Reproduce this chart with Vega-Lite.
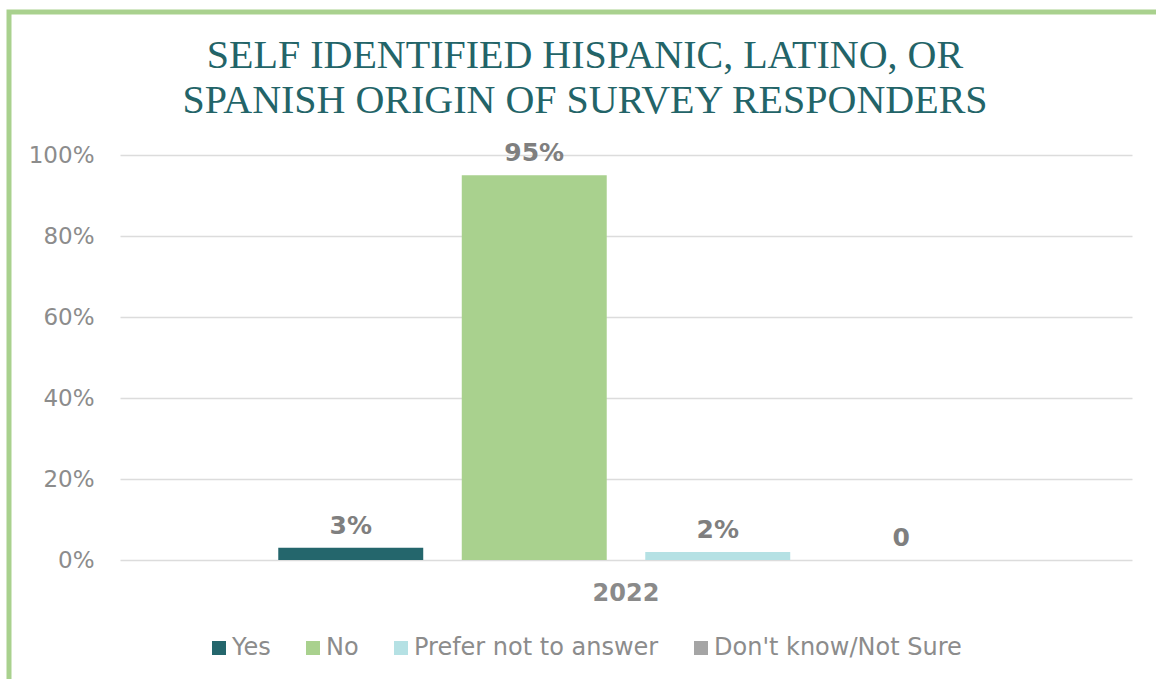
{
  "$schema": "https://vega.github.io/schema/vega-lite/v6.json",
  "width": 1152,
  "height": 672,
  "autosize": {"type": "none"},
  "padding": {"left": 9, "top": 12, "right": -5, "bottom": -5},
  "background": "white",
  "title": {
    "text": ["SELF IDENTIFIED HISPANIC, LATINO, OR", "SPANISH ORIGIN OF SURVEY RESPONDERS"],
    "font": "Liberation Serif",
    "fontSize": 40,
    "fontWeight": "normal",
    "color": "#236468",
    "lineHeight": 45,
    "frame": "group",
    "anchor": "middle",
    "offset": -109
  },
  "data": {
    "values": [
      {"year": "2022", "response": "Yes", "value": 0.03, "label": "3%"},
      {"year": "2022", "response": "No", "value": 0.95, "label": "95%"},
      {"year": "2022", "response": "Prefer not to answer", "value": 0.02, "label": "2%"},
      {"year": "2022", "response": "Don't know/Not Sure", "value": 0, "label": "0"}
    ]
  },
  "encoding": {
    "x": {
      "field": "year",
      "type": "nominal",
      "scale": {"range": [111, 1123], "paddingInner": 0, "paddingOuter": 0},
      "axis": {
        "title": null,
        "orient": "bottom",
        "offset": -124,
        "ticks": false,
        "domain": false,
        "labelAngle": 0,
        "labelPadding": 21,
        "labelFont": "DejaVu Sans",
        "labelFontSize": 24,
        "labelFontWeight": "bold",
        "labelColor": "#8a8a8a",
        "grid": false
      }
    },
    "xOffset": {
      "field": "response",
      "type": "nominal",
      "sort": ["Yes", "No", "Prefer not to answer", "Don't know/Not Sure"],
      "scale": {"paddingInner": 0.21, "paddingOuter": 0.8625}
    },
    "y": {
      "field": "value",
      "type": "quantitative",
      "scale": {"domain": [0, 1], "range": [548, 143], "nice": false},
      "axis": {
        "title": null,
        "values": [0, 0.2, 0.4, 0.6, 0.8, 1],
        "format": ".0%",
        "offset": -88,
        "labelPadding": 3,
        "ticks": false,
        "domain": false,
        "labelFont": "DejaVu Sans",
        "labelFontSize": 23,
        "labelColor": "#8c8c8c",
        "gridColor": "#dcdcdc",
        "gridWidth": 1.5
      }
    }
  },
  "layer": [
    {
      "mark": {"type": "bar"},
      "encoding": {
        "color": {
          "field": "response",
          "type": "nominal",
          "sort": ["Yes", "No", "Prefer not to answer", "Don't know/Not Sure"],
          "scale": {
            "domain": ["Yes", "No", "Prefer not to answer", "Don't know/Not Sure"],
            "range": ["#24666c", "#a9d18e", "#b5e1e4", "#a5a5a5"]
          },
          "legend": {
            "title": null,
            "orient": "none",
            "direction": "horizontal",
            "columns": 4,
            "legendX": 198,
            "legendY": 624,
            "padding": 0,
            "symbolType": "square",
            "symbolSize": 196,
            "symbolStrokeWidth": 0,
            "symbolOpacity": 1,
            "labelFont": "DejaVu Sans",
            "labelFontSize": 24,
            "labelColor": "#8c8c8c",
            "labelOffset": 1,
            "labelLimit": 0,
            "columnPadding": 30
          }
        }
      }
    },
    {
      "mark": {
        "type": "text",
        "baseline": "alphabetic",
        "dy": -14,
        "font": "DejaVu Sans",
        "fontSize": 25,
        "fontWeight": "bold",
        "color": "#7f7f7f"
      },
      "encoding": {
        "text": {"field": "label"}
      }
    }
  ],
  "config": {
    "view": {"stroke": "#a9d18e", "strokeWidth": 5}
  }
}
